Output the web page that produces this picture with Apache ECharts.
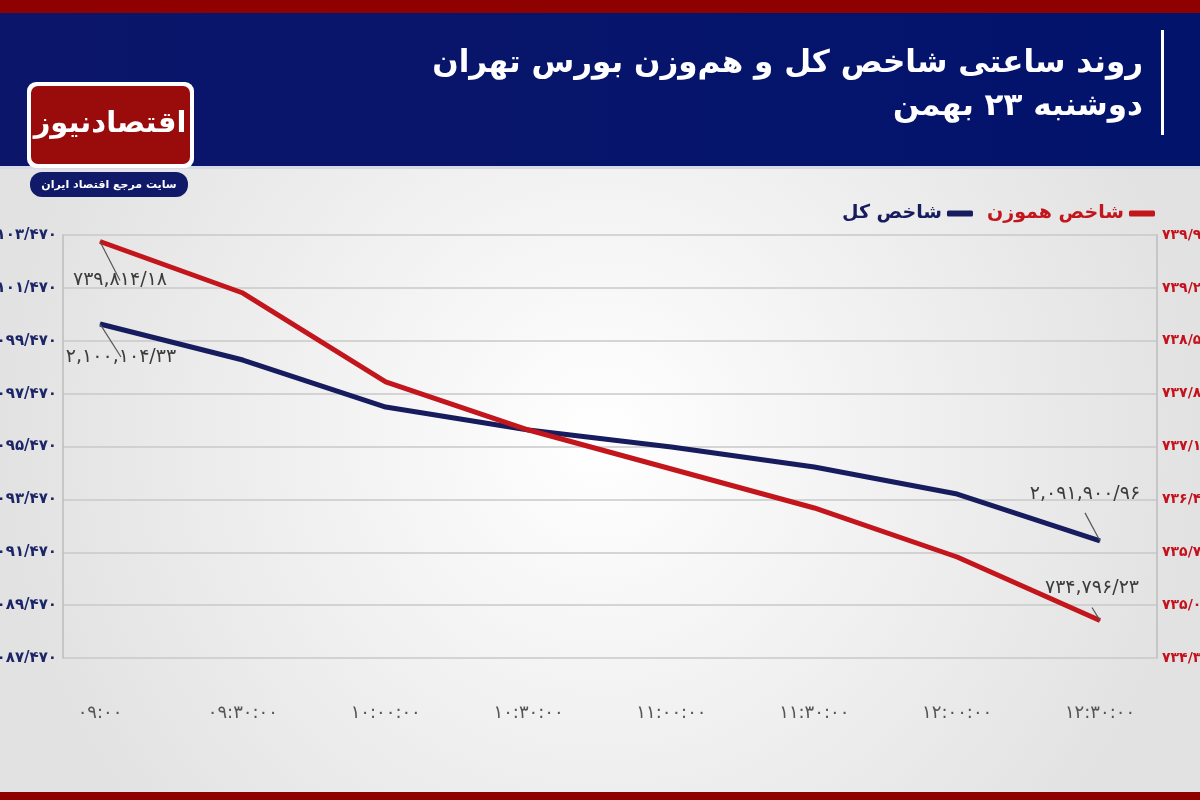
<!DOCTYPE html>
<html>
<head>
<meta charset="utf-8">
<script src="https://cdn.jsdelivr.net/npm/echarts@6/dist/echarts.min.js"></script>
<style>
html,body{margin:0;padding:0;width:1200px;height:800px;overflow:hidden;}
#c{width:1200px;height:800px;}
</style>
</head>
<body>
<div id="c"></div>
<script>
// ---- data ----
const timeLabels = ['۰۹:۰۰','۰۹:۳۰:۰۰','۱۰:۰۰:۰۰','۱۰:۳۰:۰۰','۱۱:۰۰:۰۰','۱۱:۳۰:۰۰','۱۲:۰۰:۰۰','۱۲:۳۰:۰۰'];
const totalIndexName = 'شاخص کل';
const equalIndexName = 'شاخص هموزن';
const totalIndex = [2100104.33, 2098741, 2096963, 2096093, 2095450, 2094693, 2093672, 2091900.96];
const equalIndex = [739814.18, 739132, 737954, 737318, 736802, 736286, 735637, 734796.23];
const leftMin = 2087470, leftMax = 2103470, leftStep = 2000;
const rightMin = 734300, rightMax = 739900, rightStep = 700;
const titleLine1 = 'روند ساعتی شاخص کل و هم‌وزن بورس تهران';
const titleLine2 = 'دوشنبه ۲۳ بهمن';
const logoText = 'اقتصادنیوز';
const logoSub = 'سایت مرجع اقتصاد ایران';

// ---- helpers ----
const fa = s => String(s).replace(/[0-9]/g, d => '۰۱۲۳۴۵۶۷۸۹'[d]);
const group = (n, sep) => String(n).replace(/\B(?=(\d{3})+(?!\d))/g, sep);
const axisFmt = v => fa(group(Math.round(v), '/'));
const valFmt = v => { const p = v.toFixed(2).split('.'); return fa(group(p[0], ',') + '/' + p[1]); };

const NAVY = '#161c5e', RED = '#c3161c';
const annStyle = {color:'#3c3c3c', fontSize:19, fontFamily:'DejaVu Sans'};

function buildData(arr, firstOff, lastOff, firstPos, lastPos) {
  return arr.map((v, i) => {
    if (i === 0 || i === arr.length - 1) {
      const first = i === 0;
      return {
        value: v,
        label: Object.assign({show:true, position: first ? firstPos : lastPos,
          offset: first ? firstOff : lastOff, formatter: p => valFmt(p.value)}, annStyle),
        labelLine: {show:true, lineStyle:{color:'#555', width:1.2}}
      };
    }
    return v;
  });
}

const chart = echarts.init(document.getElementById('c'));
chart.setOption({
  animation: false,
  backgroundColor: {type:'radial', x:0.5, y:0.55, r:0.75,
    colorStops:[{offset:0,color:'#ffffff'},{offset:1,color:'#e2e2e2'}]},
  graphic: [
    {type:'rect', shape:{x:0,y:0,width:1200,height:13}, style:{fill:'#8f0000'}, z:1},
    {type:'rect', shape:{x:0,y:13,width:1200,height:153},
      style:{fill:{type:'linear',x:0,y:0,x2:1,y2:0,colorStops:[{offset:0,color:'#0b166a'},{offset:1,color:'#02136c'}]}}, z:1},
    {type:'rect', shape:{x:0,y:166,width:1200,height:3}, style:{fill:'#d6d9e6'}, z:1},
    {type:'rect', shape:{x:0,y:792,width:1200,height:8}, style:{fill:'#8f0000'}, z:1},
    {type:'rect', shape:{x:1161,y:30,width:3,height:105}, style:{fill:'#ffffff'}, z:2},
    {type:'text', x:1143, y:64, style:{text:titleLine1, fill:'#ffffff', font:'bold 31px "DejaVu Sans"', align:'right', verticalAlign:'middle'}, z:3},
    {type:'text', x:1143, y:107, style:{text:titleLine2, fill:'#ffffff', font:'bold 31px "DejaVu Sans"', align:'right', verticalAlign:'middle'}, z:3},
    {type:'rect', shape:{x:27,y:82,width:167,height:86,r:9}, style:{fill:'#ffffff'}, z:3},
    {type:'rect', shape:{x:31,y:86,width:159,height:78,r:7}, style:{fill:'#9a0c0c'}, z:4},
    {type:'text', x:110, y:124, style:{text:logoText, fill:'#ffffff', font:'bold 29px "DejaVu Sans"', align:'center', verticalAlign:'middle'}, z:5},
    {type:'rect', shape:{x:30,y:172,width:158,height:25,r:12}, style:{fill:'#101a68'}, z:4},
    {type:'text', x:109, y:185, style:{text:logoSub, fill:'#ffffff', font:'bold 11px "DejaVu Sans"', align:'center', verticalAlign:'middle'}, z:5}
  ],
  legend: {
    top: 199, right: 40, align:'right', itemWidth: 26, itemHeight: 6, itemGap: 14,
    icon: 'roundRect',
    textStyle: {fontSize: 19, fontWeight:'bold', fontFamily:'DejaVu Sans'},
    data: [
      {name: totalIndexName, textStyle:{color: NAVY}},
      {name: equalIndexName, textStyle:{color: RED}}
    ]
  },
  grid: [
    {left: 63, right: 43, top: 235, bottom: 142, containLabel:false, outerBoundsMode:'none'},
    {left: 100, right: 100, top: 235, bottom: 142, containLabel:false, outerBoundsMode:'none'}
  ],
  xAxis: [
    {gridIndex:0, type:'category', data: timeLabels, show:false},
    {gridIndex:1, type:'category', data: timeLabels, boundaryGap:false,
      axisLine:{show:false}, axisTick:{show:false},
      axisLabel:{margin:46, color:'#555', fontSize:18, fontFamily:'DejaVu Sans', interval:0}}
  ],
  yAxis: [
    {gridIndex:0, type:'value', position:'left', min:leftMin, max:leftMax, interval:leftStep,
      axisLine:{show:true, lineStyle:{color:'#bdbdbd', width:1.5}}, axisTick:{show:false},
      splitLine:{show:true, lineStyle:{color:'#c8c8c8', width:1.5}},
      axisLabel:{formatter: axisFmt, color:'#1b2567', fontSize:15, fontWeight:'bold', fontFamily:'DejaVu Sans', margin:6}},
    {gridIndex:0, type:'value', position:'right', min:rightMin, max:rightMax, interval:rightStep,
      axisLine:{show:true, lineStyle:{color:'#bdbdbd', width:1.5}}, axisTick:{show:false},
      splitLine:{show:false},
      axisLabel:{formatter: axisFmt, color:'#c4121c', fontSize:14, fontWeight:'bold', fontFamily:'DejaVu Sans', margin:5}},
    {gridIndex:1, type:'value', position:'left', min:leftMin, max:leftMax, interval:leftStep, show:false, splitLine:{show:false}},
    {gridIndex:1, type:'value', position:'right', min:rightMin, max:rightMax, interval:rightStep, show:false, splitLine:{show:false}}
  ],
  series: [
    {name: totalIndexName, type:'line', xAxisIndex:1, yAxisIndex:2,
      data: buildData(totalIndex, [21,18], [-15,-32], 'bottom', 'top'),
      symbol:'circle', symbolSize:1, showSymbol:true,
      lineStyle:{color:NAVY, width:5}, itemStyle:{color:NAVY}, z:3},
    {name: equalIndexName, type:'line', xAxisIndex:1, yAxisIndex:3,
      data: buildData(equalIndex, [20,24], [-8,-17], 'bottom', 'top'),
      symbol:'circle', symbolSize:1, showSymbol:true,
      lineStyle:{color:RED, width:5}, itemStyle:{color:RED}, z:4}
  ]
});
</script>
</body>
</html>
